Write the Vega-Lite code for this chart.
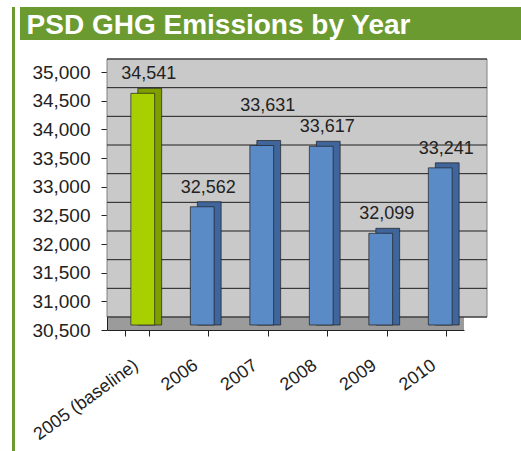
{
  "$schema": "https://vega.github.io/schema/vega-lite/v6.json",
  "background": "white",
  "padding": {"left": 10, "top": 7, "right": 0, "bottom": 0},
  "config": {
    "font": "Liberation Sans",
    "view": {"stroke": null},
    "axisY": {"labelFontSize": 19, "labelColor": "#222222", "tickSize": 6, "tickColor": "#222222", "domainColor": "#222222", "labelPadding": 11, "grid": false, "labelOverlap": false, "title": null},
    "axisX": {"labelFontSize": 18, "labelColor": "#222222", "tickSize": 6, "tickColor": "#222222", "domainColor": "#222222", "grid": false, "title": null}
  },
  "spacing": 0,
  "hconcat": [
    {
      "width": 3,
      "height": 444,
      "view": {"fill": "#6b9b30", "stroke": null},
      "data": {"values": [{}]},
      "mark": {"type": "point", "opacity": 0},
      "encoding": {}
    },
    {
      "spacing": 0,
      "vconcat": [
        {
          "width": 501,
          "height": 33,
          "view": {"fill": "#6b9b30", "stroke": null},
          "data": {"values": [{"t": "PSD GHG Emissions by Year"}]},
          "mark": {"type": "text", "color": "white", "fontSize": 28, "fontWeight": "bold", "font": "Liberation Sans", "align": "center", "baseline": "middle", "dx": -52, "dy": 2},
          "encoding": {"text": {"field": "t", "type": "nominal"}}
        },
        {
          "spacing": 6,
          "hconcat": [
            {
              "width": 1,
              "height": 1,
              "data": {"values": [{}]},
              "mark": {"type": "point", "opacity": 0},
              "encoding": {}
            },
            {
              "width": 357,
              "height": 258,
              "view": {"fill": "#9b9b9b", "stroke": null},
              "title": {"text": " ", "fontSize": 12, "offset": 5},
              "data": {"values": [
                {"year": "2005 (baseline)", "emissions": 34541},
                {"year": "2006", "emissions": 32562},
                {"year": "2007", "emissions": 33631},
                {"year": "2008", "emissions": 33617},
                {"year": "2009", "emissions": 32099},
                {"year": "2010", "emissions": 33241}
              ]},
              "layer": [
                {
                  "data": {"values": [{"g": 30500}, {"g": 31000}, {"g": 31500}, {"g": 32000}, {"g": 32500}, {"g": 33000}, {"g": 33500}, {"g": 34000}, {"g": 34500}, {"g": 35000}]},
                  "mark": {"type": "rect", "fill": "#c9c9c9", "stroke": "#808080", "strokeWidth": 1, "xOffset": 23, "x2Offset": 23, "yOffset": -13, "y2Offset": -13},
                  "encoding": {
                    "y": {"aggregate": "min", "field": "g", "type": "quantitative", "scale": {"domain": [30500, 35000], "zero": false, "nice": false},
                      "axis": {"values": [30500, 31000, 31500, 32000, 32500, 33000, 33500, 34000, 34500, 35000], "tickCount": 10, "labelExpr": "format(datum.value, ',')", "labelOverlap": false}},
                    "y2": {"aggregate": "max", "field": "g"}
                  }
                },
                {
                  "data": {"values": [{"g": 30500}, {"g": 31000}, {"g": 31500}, {"g": 32000}, {"g": 32500}, {"g": 33000}, {"g": 33500}, {"g": 34000}, {"g": 34500}, {"g": 35000}]},
                  "mark": {"type": "rule", "color": "#1e1e1e", "strokeWidth": 1, "xOffset": 23, "x2Offset": 23, "yOffset": -13},
                  "encoding": {"y": {"field": "g", "type": "quantitative"}}
                },
                {
                  "mark": {"type": "bar", "xOffset": 13, "yOffset": -10, "y2Offset": -5, "stroke": "#1e1e1e", "strokeWidth": 0.7},
                  "encoding": {
                    "x": {"field": "year", "type": "nominal", "sort": null, "scale": {"paddingInner": 0.6, "paddingOuter": 0.3},
                      "axis": {"labelAngle": -36, "labelAlign": "right", "labelBaseline": "top", "tickBand": "extent", "labelPadding": 20, "labelOffset": -6}},
                    "y": {"field": "emissions", "type": "quantitative"},
                    "y2": {"datum": 30500},
                    "color": {"condition": {"test": "datum.year == '2005 (baseline)'", "value": "#7f9e00"}, "value": "#40659a"}
                  }
                },
                {
                  "mark": {"type": "bar", "xOffset": 6, "yOffset": -5, "y2Offset": -5, "stroke": "#1e1e1e", "strokeWidth": 0.7},
                  "encoding": {
                    "x": {"field": "year", "type": "nominal", "sort": null},
                    "y": {"field": "emissions", "type": "quantitative"},
                    "y2": {"datum": 30500},
                    "color": {"condition": {"test": "datum.year == '2005 (baseline)'", "value": "#a8d000"}, "value": "#5b8bc7"}
                  }
                },
                {
                  "transform": [{"filter": "datum.year != '2007'"}],
                  "mark": {"type": "text", "dx": 12, "dy": -24, "fontSize": 18, "color": "#222222", "baseline": "middle"},
                  "encoding": {
                    "x": {"field": "year", "type": "nominal", "sort": null},
                    "y": {"field": "emissions", "type": "quantitative"},
                    "text": {"field": "emissions", "type": "quantitative", "format": ","}
                  }
                },
                {
                  "transform": [{"filter": "datum.year == '2007'"}],
                  "mark": {"type": "text", "dx": 12, "dy": -44, "fontSize": 18, "color": "#222222", "baseline": "middle"},
                  "encoding": {
                    "x": {"field": "year", "type": "nominal", "sort": null},
                    "y": {"field": "emissions", "type": "quantitative"},
                    "text": {"field": "emissions", "type": "quantitative", "format": ","}
                  }
                }
              ]
            }
          ]
        }
      ]
    },
    {
      "width": 3,
      "height": 444,
      "view": {"fill": "#6b9b30", "stroke": null},
      "data": {"values": [{}]},
      "mark": {"type": "point", "opacity": 0},
      "encoding": {}
    }
  ]
}
